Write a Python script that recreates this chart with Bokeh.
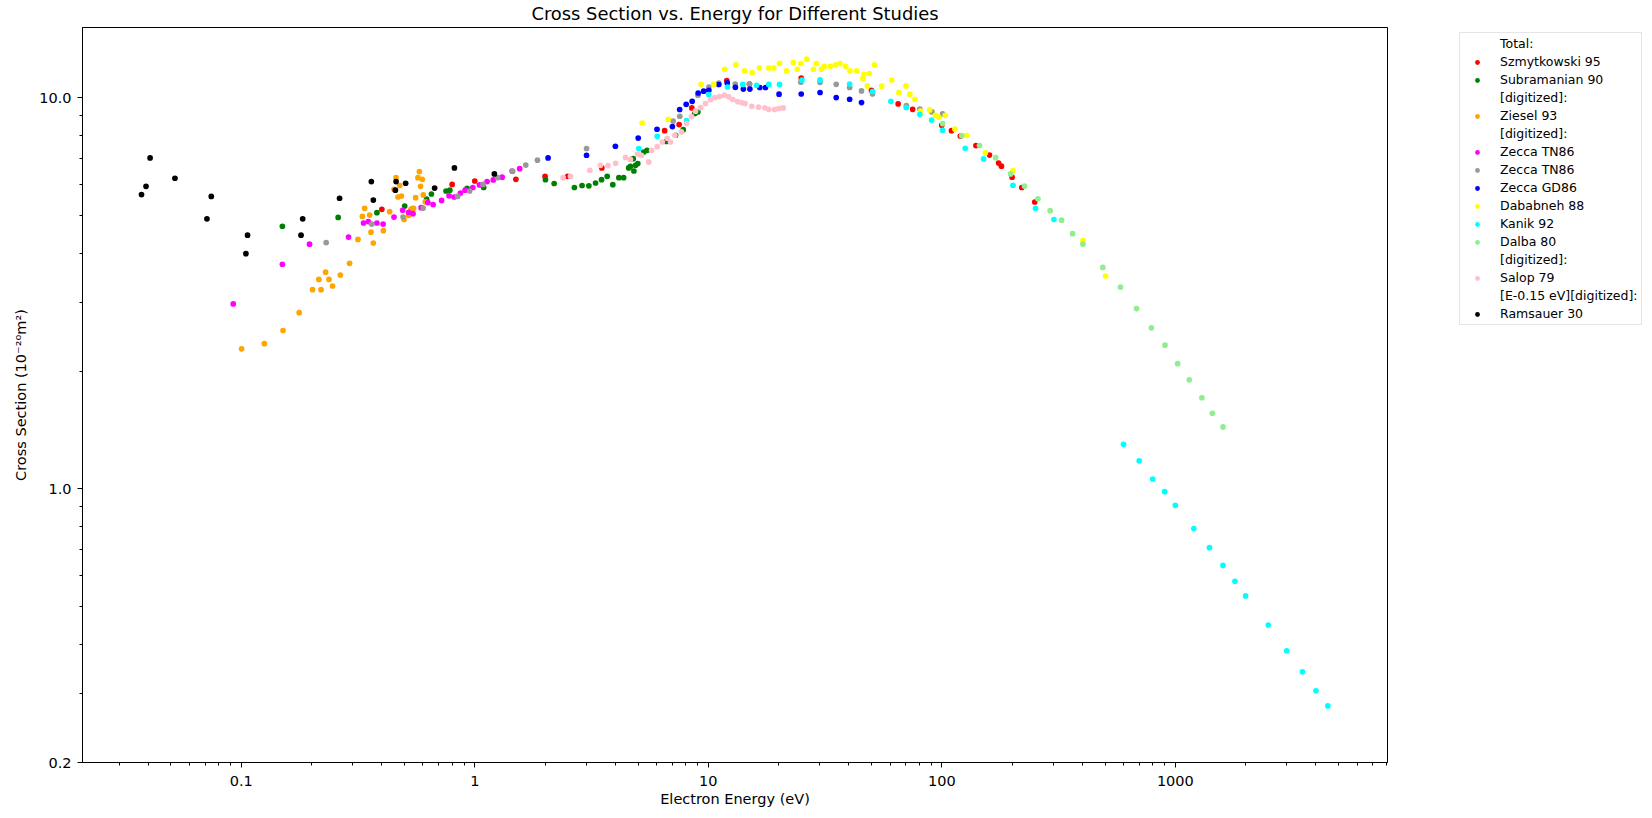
from bokeh.plotting import figure
from bokeh.layouts import row
from bokeh.models import (ColumnDataSource, Legend, LegendItem, Range1d,
                          FixedTicker)
from bokeh.embed import file_html
from bokeh.resources import INLINE

# ---------------- data ----------------
szmyt_E = [0.40, 0.80, 1.0, 1.5, 2.0, 2.5, 3.5, 6.5, 7.5, 8.5, 12, 15, 25, 50,
           65, 75, 100, 110, 120, 140, 160, 175, 180, 200, 220, 250]
szmyt_S = [5.18, 6.00, 6.12, 6.18, 6.29, 6.29, 6.61, 8.23, 8.53, 9.41, 11.05,
           10.83, 11.22, 10.44, 9.63, 9.33, 8.50, 8.23, 7.97, 7.54, 7.13, 6.80,
           6.68, 6.26, 5.89, 5.41]

subra_E = [0.150, 0.260, 0.381, 0.501, 0.542, 0.622, 0.652, 0.753, 0.782, 0.927,
           1.092, 2.007, 2.187, 2.67, 2.88, 3.08, 3.29, 3.49, 3.69, 3.90, 4.14,
           4.34, 4.56, 4.64, 4.77, 4.80, 4.88, 4.99, 5.29, 5.47, 6.60, 7.24,
           7.81, 8.75, 9.02]
subra_S = [4.69, 4.94, 5.08, 5.28, 5.20, 5.50, 5.67, 5.77, 5.80, 5.86, 5.89,
           6.17, 6.03, 5.89, 5.96, 5.95, 6.05, 6.17, 6.29, 5.99, 6.24, 6.24,
           6.61, 6.67, 6.98, 6.49, 6.71, 6.78, 7.26, 7.33, 7.72, 8.01, 8.28,
           9.10, 9.19]

ziesel_E = [0.1003, 0.1255, 0.151, 0.177, 0.202, 0.2196, 0.215, 0.2297, 0.2375,
            0.246, 0.2656, 0.291, 0.316, 0.330, 0.3375, 0.3546, 0.3594, 0.3677,
            0.406, 0.432, 0.460, 0.451, 0.469, 0.485, 0.477, 0.498, 0.521,
            0.558, 0.579, 0.571, 0.596, 0.586, 0.602, 0.614, 0.533, 0.547]
ziesel_S = [2.28, 2.35, 2.54, 2.82, 3.23, 3.23, 3.43, 3.58, 3.43, 3.30, 3.52,
            3.77, 4.34, 4.97, 5.21, 5.01, 4.53, 4.25, 4.57, 5.11, 6.24, 5.83,
            5.57, 5.60, 5.96, 4.88, 5.00, 5.55, 6.47, 6.24, 6.18, 5.93, 5.64,
            5.41, 5.18, 5.21]

zeccaA_E = [0.0924, 0.150, 0.196, 0.288, 0.334, 0.350, 0.381, 0.405, 0.451,
            0.491, 0.521, 0.544, 0.589, 0.630, 0.663, 0.721, 0.776, 0.816,
            0.868, 0.909, 0.981, 1.048, 1.129, 1.20, 1.31, 1.445, 1.557]
zeccaA_S = [2.97, 3.75, 4.22, 4.40, 4.78, 4.82, 4.78, 4.75, 4.95, 5.15, 5.09,
            5.05, 5.23, 5.39, 5.33, 5.46, 5.61, 5.57, 5.70, 5.80, 5.89, 5.98,
            6.10, 6.16, 6.26, 6.49, 6.58]

zeccaB_E = [0.231, 0.362, 0.493, 0.601, 0.845, 0.951, 1.085, 1.253, 1.453,
            1.653, 1.855, 3.01, 7.07, 7.55, 9.03, 10.05, 11.09, 13.04, 15.02,
            24.9, 30.1, 35.3, 40.3, 45.3, 50.5, 70.5, 80.5, 90.7, 100.8]
zeccaB_S = [4.26, 4.75, 4.95, 5.22, 5.59, 5.77, 6.00, 6.24, 6.48, 6.72, 6.92,
            7.41, 8.71, 8.96, 10.14, 10.64, 10.88, 10.83, 10.83, 10.94, 10.94,
            10.81, 10.61, 10.40, 10.21, 9.54, 9.35, 9.19, 9.08]

zeccaGD_E = [2.06, 3.01, 4.00, 5.01, 6.03, 7.02, 7.54, 8.04, 8.53, 9.05, 9.55,
             10.05, 11.09, 12.05, 13.06, 14.13, 15.07, 16.62, 17.58, 20.09,
             25.0, 30.1, 35.3, 40.3, 45.3]
zeccaGD_S = [7.01, 7.12, 7.51, 7.88, 8.30, 8.43, 9.32, 9.61, 9.78, 10.27, 10.38,
             10.44, 10.80, 10.90, 10.62, 10.51, 10.51, 10.61, 10.61, 10.20,
             10.21, 10.30, 10.00, 9.90, 9.71]

dabab_E = [5.21, 6.73, 9.32, 10.56, 11.73, 13.12, 14.29, 15.42, 16.57, 18.16,
           19.08, 20.18, 21.63, 23.11, 24.04, 24.9, 26.4, 28.2, 29.0, 30.5,
           31.4, 33.3, 35.1, 36.6, 38.7, 40.4, 43.2, 45.9, 46.4, 48.9, 51.5,
           48.0, 55.3, 61.0, 65.5, 70.2, 73.0, 76.7, 81.1, 88.7, 93.8, 96.9,
           103.5, 113.8, 128, 153.6, 201.6, 402, 503]
dabab_S = [8.61, 8.80, 10.81, 10.81, 11.81, 12.12, 11.70, 11.59, 11.90, 11.90,
           11.90, 12.22, 11.70, 12.29, 11.81, 12.22, 12.53, 11.81, 12.22, 11.81,
           12.02, 12.02, 12.12, 12.22, 12.02, 11.70, 11.70, 11.18, 11.47, 11.52,
           12.12, 10.71, 10.69, 11.09, 10.30, 10.71, 10.20, 9.90, 9.23, 9.30,
           9.01, 8.92, 9.01, 8.31, 8.01, 7.22, 6.51, 4.31, 3.50]

kanik_E = [5.04, 6.04, 8.07, 10.05, 12.08, 14.05, 16.09, 18.16, 20.18, 25.2,
           30.1, 40.3, 50.5, 60.5, 70.4, 80.5, 90.4, 100.7, 126, 151, 201.6,
           252, 302, 600, 700, 800, 900, 1000, 1200, 1400, 1600, 1800, 2000,
           2500, 3000, 3500, 4000, 4500]
kanik_S = [7.41, 7.96, 8.73, 10.18, 10.64, 10.80, 10.75, 10.80, 10.80, 11.09,
           11.09, 10.83, 10.36, 9.78, 9.43, 9.06, 8.76, 8.25, 7.42, 6.97, 5.97,
           5.21, 4.88, 1.30, 1.18, 1.06, 0.984, 0.908, 0.792, 0.708, 0.638,
           0.581, 0.533, 0.449, 0.386, 0.341, 0.305, 0.279]

dalba_E = [100.8, 121.6, 145, 170, 197, 226, 258, 291, 326, 363, 402, 489, 582,
           682, 790, 903, 1023, 1147, 1299, 1441, 1600]
dalba_S = [8.58, 7.99, 7.54, 7.02, 6.38, 5.94, 5.51, 5.14, 4.86, 4.49, 4.22,
           3.68, 3.28, 2.89, 2.58, 2.33, 2.09, 1.90, 1.71, 1.56, 1.44]

salop_E = [2.39, 2.57, 3.11, 3.45, 3.72, 4.01, 4.42, 4.64, 4.97, 5.17, 5.56,
           5.72, 6.04, 6.35, 6.67, 6.89, 7.19, 7.67, 8.07, 8.47, 8.81, 9.26,
           9.73, 10.22, 10.66, 11.17, 11.73, 12.24, 12.73, 13.37, 13.88, 14.36,
           15.35, 16.41, 17.46, 18.16, 19.21, 20.04, 20.94]
salop_S = [6.24, 6.29, 6.52, 6.71, 6.70, 6.79, 7.03, 6.95, 7.17, 7.12, 6.84,
           7.33, 7.49, 7.70, 7.87, 7.70, 8.01, 8.17, 8.58, 8.94, 9.23, 9.42,
           9.65, 9.87, 10.00, 10.06, 10.14, 10.04, 9.88, 9.76, 9.71, 9.65, 9.50,
           9.45, 9.41, 9.33, 9.32, 9.37, 9.41]

ramsa_E = [0.0407, 0.0391, 0.0374, 0.0520, 0.0744, 0.0713, 0.1064, 0.1047,
           0.1833, 0.1803, 0.2636, 0.3606, 0.3677, 0.4603, 0.457, 0.5058,
           0.673, 0.818, 1.213]
ramsa_S = [7.01, 5.93, 5.65, 6.22, 5.59, 4.90, 4.45, 3.99, 4.90, 4.45, 5.53,
           6.10, 5.47, 6.10, 5.80, 6.04, 5.87, 6.61, 6.38]

series = [
    ("Szmytkowski 95", szmyt_E, szmyt_S, "#ff0000"),
    ("Subramanian 90", subra_E, subra_S, "#008000"),
    ("Ziesel 93", ziesel_E, ziesel_S, "#ffa500"),
    ("Zecca TN86", zeccaA_E, zeccaA_S, "#ff00ff"),
    ("Zecca TN86", zeccaB_E, zeccaB_S, "#999999"),
    ("Zecca GD86", zeccaGD_E, zeccaGD_S, "#0000ff"),
    ("Dababneh 88", dabab_E, dabab_S, "#ffff00"),
    ("Kanik 92", kanik_E, kanik_S, "#00ffff"),
    ("Dalba 80", dalba_E, dalba_S, "#90ee90"),
    ("Salop 79", salop_E, salop_S, "#ffc0cb"),
    ("Ramsauer 30", ramsa_E, ramsa_S, "#000000"),
]
# legend rows: text-only rows are strings, others index into series
legend_rows = ["Total:", 0, 1, "[digitized]:", 2, "[digitized]:", 3, 4, 5, 6,
               7, 8, "[digitized]:", 9, "[E-0.15 eV][digitized]:", 10]

x_ticks = [0.1, 1, 10, 100, 1000]
x_tick_labels = ["0.1", "1", "10", "100", "1000"]
y_ticks = [0.2, 1, 10]
y_tick_labels = ["0.2", "1.0", "10.0"]

FONT = "DejaVu Sans"
H = 816

p = figure(width=1390, height=H, x_axis_type="log", y_axis_type="log",
           x_range=Range1d(0.0209, 8100), y_range=Range1d(0.2, 15.1),
           output_backend="svg", toolbar_location=None,
           title="Cross Section vs. Energy for Different Studies",
           min_border_left=82, min_border_right=3, min_border_top=27,
           min_border_bottom=H - 762)
p.title.align = "center"
p.title.vertical_align = "top"
p.title.text_font = FONT
p.title.text_font_size = "17.9px"
p.title.text_font_style = "normal"
p.title.text_color = "black"
p.title.standoff = 3
p.grid.visible = False
p.outline_line_color = "black"
p.outline_line_width = 1
p.background_fill_color = "white"
p.border_fill_color = "white"

for label, xs, ys, col in series:
    src = ColumnDataSource(dict(x=xs, y=ys))
    p.scatter("x", "y", source=src, size=5.7, fill_color=col, line_color=None)

minor_x = []
for dec in [0.01, 0.1, 1, 10, 100, 1000]:
    for m in range(2, 10):
        v = m * dec
        if 0.0209 < v < 8100:
            minor_x.append(round(v, 6))
minor_y = [0.3, 0.4, 0.5, 0.6, 0.7, 0.8, 0.9, 2, 3, 4, 5, 6, 7, 8, 9]

p.xaxis.ticker = FixedTicker(ticks=x_ticks, minor_ticks=minor_x)
p.yaxis.ticker = FixedTicker(ticks=y_ticks, minor_ticks=minor_y)
p.xaxis.major_label_overrides = {t: l for t, l in zip(x_ticks, x_tick_labels)}
p.yaxis.major_label_overrides = {t: l for t, l in zip(y_ticks, y_tick_labels)}

for ax in (p.xaxis, p.yaxis):
    ax.axis_line_color = "black"
    ax.major_tick_line_color = "black"
    ax.minor_tick_line_color = "black"
    ax.major_tick_in = 0
    ax.major_tick_out = 5
    ax.minor_tick_in = 0
    ax.minor_tick_out = 3
    ax.major_label_text_font = FONT
    ax.major_label_text_font_size = "14.5px"
    ax.major_label_text_color = "black"
    ax.axis_label_text_font = FONT
    ax.axis_label_text_font_size = "14.5px"
    ax.axis_label_text_font_style = "normal"
    ax.axis_label_text_color = "black"

p.xaxis.axis_label = "Electron Energy (eV)"
p.xaxis.major_label_standoff = 8
p.xaxis.axis_label_standoff = 2
p.yaxis.axis_label = "Cross Section (10\u207b\u00b2\u2070m\u00b2)"
p.yaxis.major_label_standoff = 6
p.yaxis.axis_label_standoff = 7

# ---------------- legend panel (separate figure to the right) ----------------
lg = figure(width=260, height=H, output_backend="svg", toolbar_location=None,
            min_border=0, x_axis_location=None, y_axis_location=None,
            x_range=Range1d(0, 1), y_range=Range1d(0, 1))
lg.outline_line_color = None
lg.grid.visible = False
lg.background_fill_color = "white"
lg.border_fill_color = "white"

blank = lg.scatter(x=[-10], y=[-10], size=5, fill_alpha=0, line_alpha=0)
handles = [lg.scatter(x=[-10], y=[-10], size=5.7, fill_color=col,
                      line_color=None) for _, _, _, col in series]

items = []
for r_ in legend_rows:
    if isinstance(r_, str):
        items.append(LegendItem(label=r_, renderers=[blank]))
    else:
        items.append(LegendItem(label=series[r_][0], renderers=[handles[r_]]))

legend = Legend(items=items, location=(69, 437))
legend.label_text_font = FONT
legend.label_text_font_size = "12.5px"
legend.label_text_color = "black"
legend.glyph_width = 28
legend.glyph_height = 12
legend.label_height = 14
legend.label_standoff = 9
legend.padding = 3
legend.spacing = 3
legend.margin = 0
legend.border_line_color = "#cccccc"
legend.border_line_width = 1
legend.background_fill_color = "white"
legend.background_fill_alpha = 1
lg.add_layout(legend, "center")

layout = row(p, lg, spacing=0)
open("out.html", "w").write(file_html(layout, INLINE))
